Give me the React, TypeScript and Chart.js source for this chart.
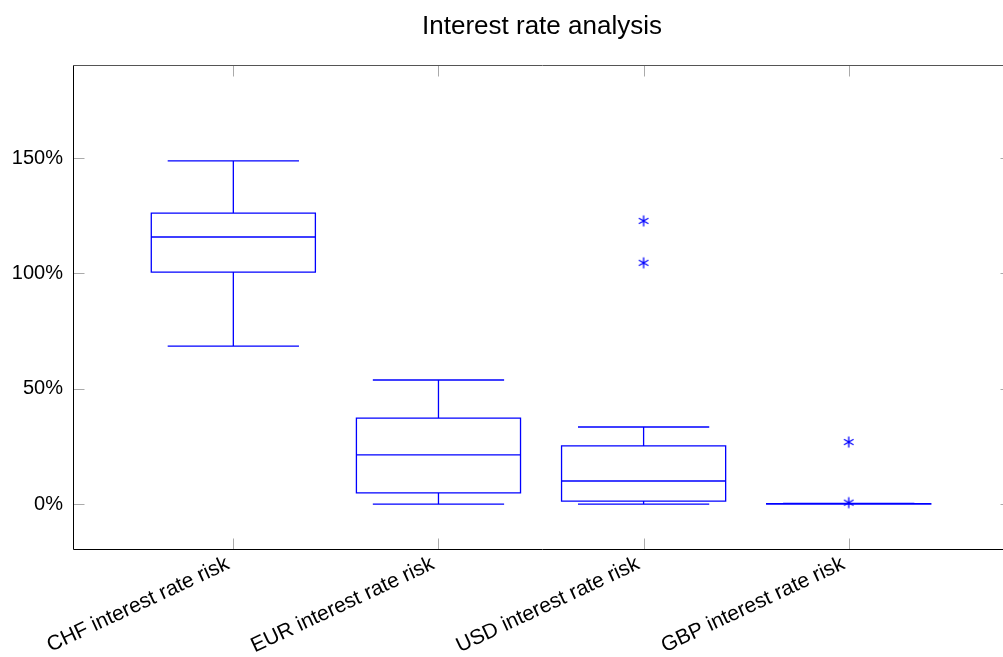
import React, { useEffect, useRef } from "react";
import { Chart, registerables } from "chart.js";

Chart.register(...registerables);

const categories = [
  "CHF interest rate risk",
  "EUR interest rate risk",
  "USD interest rate risk",
  "GBP interest rate risk",
];
const whiskerLow = [68.5, 0, 0, 0];
const quartile1 = [100.6, 4.8, 1.3, 0];
const medians = [115.8, 21.3, 10.0, 0.1];
const quartile3 = [126.2, 37.3, 25.2, 0.2];
const whiskerHigh = [148.8, 53.8, 33.4, 0.3];
const outlierCategory = [3, 3, 4, 4];
const outlierValues = [122.8, 104.6, 26.9, 0.6];
const yTicks = [0, 50, 100, 150];

const BLUE = "#0000ff";

function makeAsterisk(): HTMLCanvasElement {
  const c = document.createElement("canvas");
  c.width = 14;
  c.height = 14;
  const g = c.getContext("2d")!;
  g.strokeStyle = BLUE;
  g.lineWidth = 1.3;
  const cx = 7, cy = 7, r = 5.5;
  g.beginPath();
  for (let k = 0; k < 3; k++) {
    const a = Math.PI / 2 + (k * Math.PI) / 3;
    g.moveTo(cx + r * Math.cos(a), cy + r * Math.sin(a));
    g.lineTo(cx - r * Math.cos(a), cy - r * Math.sin(a));
  }
  g.stroke();
  return c;
}

const boxPlugin = {
  id: "boxPlugin",
  afterDatasetsDraw(chart: any) {
    const ctx = chart.ctx;
    const xs = chart.scales.x;
    const ys = chart.scales.y;
    ctx.save();
    ctx.strokeStyle = BLUE;
    ctx.lineWidth = 1.3;
    categories.forEach((_, i) => {
      const c = i + 1;
      const xl = xs.getPixelForValue(c - 0.4);
      const xr = xs.getPixelForValue(c + 0.4);
      const xc = xs.getPixelForValue(c);
      const cl = xs.getPixelForValue(c - 0.32);
      const cr = xs.getPixelForValue(c + 0.32);
      const yq1 = ys.getPixelForValue(quartile1[i]);
      const yq3 = ys.getPixelForValue(quartile3[i]);
      const ym = ys.getPixelForValue(medians[i]);
      const ylo = ys.getPixelForValue(whiskerLow[i]);
      const yhi = ys.getPixelForValue(whiskerHigh[i]);
      ctx.beginPath();
      ctx.rect(xl, yq3, xr - xl, yq1 - yq3);
      ctx.moveTo(xl, ym);
      ctx.lineTo(xr, ym);
      ctx.moveTo(xc, yq3);
      ctx.lineTo(xc, yhi);
      ctx.moveTo(cl, yhi);
      ctx.lineTo(cr, yhi);
      ctx.moveTo(xc, yq1);
      ctx.lineTo(xc, ylo);
      ctx.moveTo(cl, ylo);
      ctx.lineTo(cr, ylo);
      ctx.stroke();
    });
    ctx.restore();
  },
};

const framePlugin = {
  id: "framePlugin",
  beforeDatasetsDraw(chart: any) {
    const ctx = chart.ctx;
    const { left, right, top, bottom } = chart.chartArea;
    const xs = chart.scales.x;
    const ys = chart.scales.y;
    const L = Math.round(left) + 0.5;
    const R = Math.round(right) + 0.5;
    const T = Math.round(top) + 0.5;
    const B = Math.round(bottom) + 0.5;
    ctx.save();
    ctx.lineWidth = 1;
    ctx.strokeStyle = "#aaaaaa";
    ctx.beginPath();
    yTicks.forEach((v) => {
      const y = Math.round(ys.getPixelForValue(v)) + 0.5;
      ctx.moveTo(L, y);
      ctx.lineTo(L + 11, y);
      ctx.moveTo(R, y);
      ctx.lineTo(R - 11, y);
    });
    categories.forEach((_, i) => {
      const x = Math.round(xs.getPixelForValue(i + 1)) + 0.5;
      ctx.moveTo(x, T);
      ctx.lineTo(x, T + 11);
      ctx.moveTo(x, B);
      ctx.lineTo(x, B - 11);
    });
    ctx.stroke();
    ctx.strokeStyle = "#555555";
    ctx.beginPath();
    ctx.moveTo(L, T);
    ctx.lineTo(R, T);
    ctx.moveTo(R, T);
    ctx.lineTo(R, B);
    ctx.stroke();
    ctx.strokeStyle = "#000000";
    ctx.beginPath();
    ctx.moveTo(L, T);
    ctx.lineTo(L, B);
    ctx.lineTo(R, B);
    ctx.stroke();
    ctx.restore();
  },
};

export default function App() {
  const ref = useRef<HTMLCanvasElement>(null);
  useEffect(() => {
    const asterisk = makeAsterisk();
    const chart = new Chart(ref.current!, {
      type: "scatter",
      data: {
        datasets: [
          {
            label: "Outliers",
            data: outlierValues.map((v, i) => ({ x: outlierCategory[i], y: v })),
            pointStyle: asterisk as any,
            borderColor: BLUE,
            backgroundColor: BLUE,
          },
        ],
      },
      options: {
        responsive: false,
        animation: false,
        layout: { padding: { left: 0, right: 1, top: 0, bottom: 0 } },
        plugins: {
          legend: { display: false },
          tooltip: { enabled: false },
          title: {
            display: true,
            fullSize: false,
            text: "Interest rate analysis",
            color: "#000",
            font: { family: "Liberation Sans", size: 26, weight: "normal", lineHeight: 1.2 },
            padding: { top: 11.4, bottom: 22.4 },
          },
        },
        scales: {
          x: {
            type: "linear",
            min: 0.2184,
            max: 4.791,
            grid: { display: false, drawTicks: false },
            border: { display: false },
            afterBuildTicks: (s: any) => {
              s.ticks = categories.map((_, i) => ({ value: i + 1 }));
            },
            afterFit: (s: any) => {
              s.height = 108;
            },
            ticks: {
              autoSkip: false,
              minRotation: 25,
              maxRotation: 25,
              padding: 0,
              color: "#000",
              font: { family: "Liberation Sans", size: 21 },
              callback: (v: any) => (categories[Math.round(v) - 1] ?? "") + " ",
            },
          },
          y: {
            type: "linear",
            min: -19.5,
            max: 190.4,
            grid: { display: false, drawTicks: false },
            border: { display: false },
            afterBuildTicks: (s: any) => {
              s.ticks = yTicks.map((v) => ({ value: v }));
            },
            afterFit: (s: any) => {
              s.width = 73;
            },
            ticks: {
              padding: 10,
              color: "#000",
              font: { family: "Liberation Sans", size: 20 },
              callback: (v: any) => `${v}%`,
            },
          },
        },
      },
      plugins: [framePlugin, boxPlugin],
    });
    return () => chart.destroy();
  }, []);
  return (
    <div
      style={{
        position: "absolute",
        left: 0,
        top: 0,
        width: 1003,
        height: 657,
        overflow: "hidden",
        background: "#fff",
      }}
    >
      <canvas ref={ref} width={1016} height={657} style={{ display: "block" }} />
    </div>
  );
}
